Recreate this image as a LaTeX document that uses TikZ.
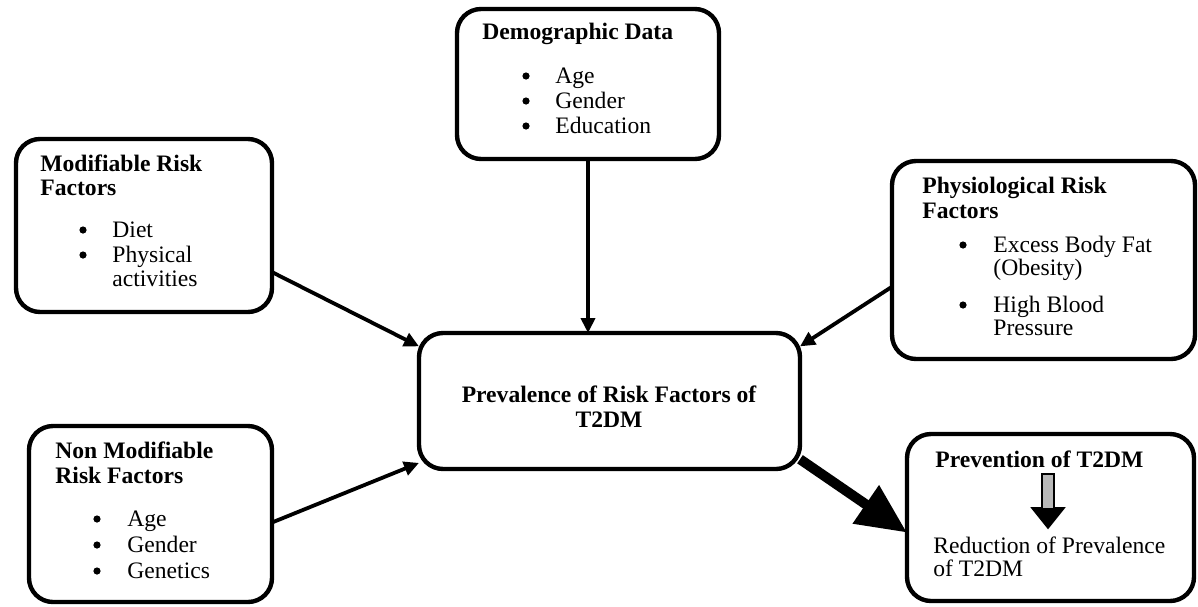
\documentclass[tikz,border=0pt]{standalone}
\usepackage{fontspec}
\setmainfont{Liberation Serif}
\usetikzlibrary{arrows.meta,calc}
\begin{document}
\begin{tikzpicture}[x=0.5pt,y=-0.5pt,
  box/.style={draw, line width=2.2pt, rounded corners=12pt, inner sep=0pt, outer sep=0pt},
  txt/.style={anchor=base west, inner sep=0pt, font=\fontsize{11.8}{14}\selectfont},
  ttl/.style={txt, font=\fontsize{11.8}{14}\selectfont\bfseries},
  dot/.style={circle, fill, inner sep=0pt, minimum size=3.6pt},
  arr/.style={line width=1.9pt, -{Triangle[length=7.5pt,width=7pt]}},
  bigarr/.style={line width=5pt, -{Triangle[length=25pt,width=22pt]}}]
\useasboundingbox (0,0) rectangle (1198,606);
% boxes
\node[box, minimum width=131pt, minimum height=75pt] (demo) at (588,84) {};
\node[box, minimum width=128pt, minimum height=86.5pt] (mod) at (144,225.5) {};
\node[box, minimum width=151.5pt, minimum height=99pt] (phys) at (1043.5,260) {};
\node[box, minimum width=190.5pt, minimum height=68pt] (center) at (609.5,401) {};
\node[box, minimum width=121.5pt, minimum height=88pt] (nonmod) at (150.5,514) {};
\node[box, minimum width=143.5pt, minimum height=83.5pt] (prev) at (1050.5,517.5) {};
% demographic
\node[ttl] (demoT) at (482,39) {Demographic Data};
\node[dot] (demoB1) at (526,76) {};
\node[txt] (demoI1) at (555,83) {Age};
\node[dot] (demoB2) at (526,101) {};
\node[txt] (demoI2) at (555,108) {Gender};
\node[dot] (demoB3) at (526,126) {};
\node[txt] (demoI3) at (555,133) {Education};
% modifiable
\node[ttl] (modT1) at (40,171) {Modifiable Risk};
\node[ttl] (modT2) at (40,195) {Factors};
\node[dot] (modB1) at (83,230) {};
\node[txt] (modI1) at (112,237) {Diet};
\node[dot] (modB2) at (83,255) {};
\node[txt] (modI2) at (112,262) {Physical};
\node[txt] (modI3) at (112,286) {activities};
% physiological
\node[ttl] (physT1) at (922,193) {Physiological Risk};
\node[ttl] (physT2) at (922,218) {Factors};
\node[dot] (physB1) at (963,245) {};
\node[txt] (physI1) at (993,252) {Excess Body Fat};
\node[txt] (physI2) at (993,275) {(Obesity)};
\node[dot] (physB2) at (963,305) {};
\node[txt] (physI3) at (993,312) {High Blood};
\node[txt] (physI4) at (993,335) {Pressure};
% center
\node[font=\fontsize{11.8}{14}\selectfont\bfseries, anchor=base, inner sep=0pt] (cT1) at (609,402) {Prevalence of Risk Factors of};
\node[font=\fontsize{11.8}{14}\selectfont\bfseries, anchor=base, inner sep=0pt] (cT2) at (609,427) {T2DM};
% non modifiable
\node[ttl] (nmT1) at (55,458) {Non Modifiable};
\node[ttl] (nmT2) at (55,483) {Risk Factors};
\node[dot] (nmB1) at (97,519) {};
\node[txt] (nmI1) at (127,526) {Age};
\node[dot] (nmB2) at (97,545) {};
\node[txt] (nmI2) at (127,552) {Gender};
\node[dot] (nmB3) at (97,571) {};
\node[txt] (nmI3) at (127,578) {Genetics};
% prevention
\node[ttl] (prT) at (935,467) {Prevention of T2DM};
\node[txt] (prI1) at (933,553) {Reduction of Prevalence};
\node[txt] (prI2) at (933,576) {of T2DM};
% small block arrow
\draw[line width=0.8pt, fill=gray!55] (1042,474) -- (1054,474) -- (1054,508) -- (1064,508) -- (1048,528) -- (1032,508) -- (1042,508) -- cycle;
\fill (1032,508) -- (1064,508) -- (1048,528) -- cycle;
% connectors
\draw[arr] (demo.south) -- (demo.south |- center.north);
\draw[arr] (mod.-20) -- (center.164);
\draw[arr] (nonmod.-4) -- (center.198);
\draw[arr] (phys.190) -- (center.16);
\draw[bigarr] (center.-17) -- (prev.186);
\end{tikzpicture}
\end{document}
